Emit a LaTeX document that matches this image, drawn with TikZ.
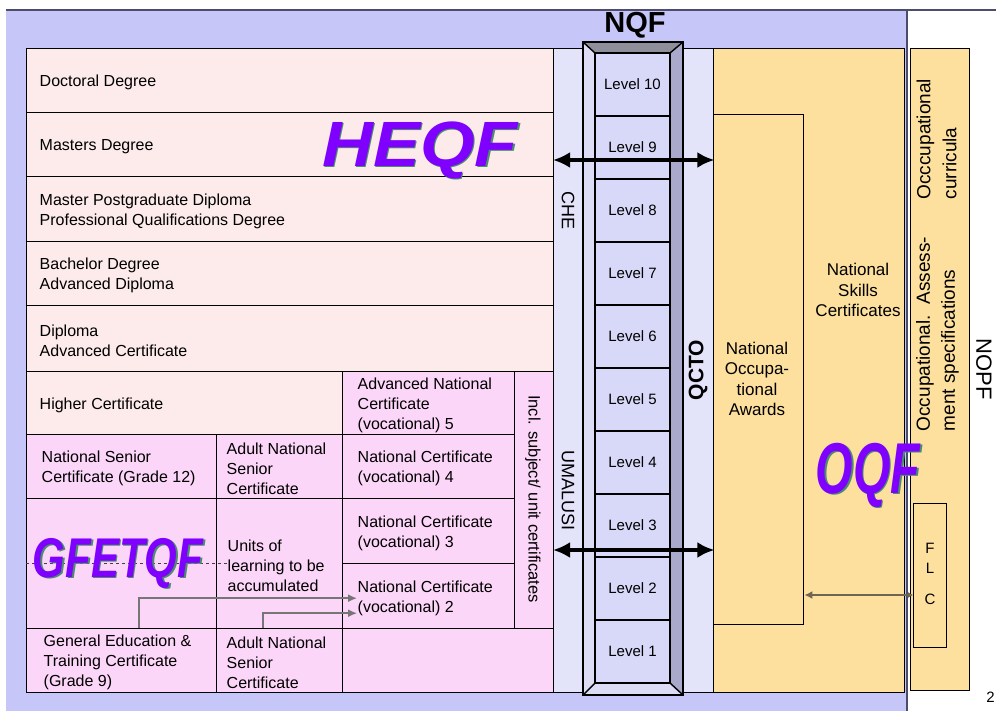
\documentclass[tikz,border=0pt]{standalone}
\usepackage{fontspec}
\setmainfont{Liberation Sans}
\usetikzlibrary{arrows.meta,positioning}
\definecolor{nqfbg}{HTML}{C6C6F8}
\definecolor{hepink}{HTML}{FDEBEB}
\definecolor{fepink}{HTML}{FCD6F8}
\definecolor{bodybar}{HTML}{E3E3FA}
\definecolor{lvlfill}{HTML}{D8D8F8}
\definecolor{frlight}{HTML}{DCDCF4}
\definecolor{frdark}{HTML}{A9A9CC}
\definecolor{frtop}{HTML}{8F8F9C}
\definecolor{oqffill}{HTML}{FDDF9E}
\definecolor{logoink}{HTML}{8000FF}
\definecolor{logoglow}{HTML}{4A8C6C}
\definecolor{linkgray}{HTML}{767676}
\definecolor{flcline}{HTML}{6E6650}
\definecolor{edge}{HTML}{4C4C6C}

\begin{document}
\begin{tikzpicture}[x=1pt, y=-1pt, line width=1.4pt,
  cellbox/.style n args={2}{draw, anchor=north west, minimum width=#1, minimum height=#2, inner sep=0pt},
  he/.style={fill=hepink},
  fe/.style={fill=fepink},
  bar/.style={draw, fill=bodybar, anchor=north west, minimum width=30pt, minimum height=644pt, inner sep=0pt},
  txt/.style={align=left, inner sep=0pt, yshift=-2pt, font=\fontsize{16}{20}\selectfont},
  lvl/.style={draw, fill=lvlfill, minimum width=75pt, minimum height=63pt, inner sep=0pt, font=\fontsize{15}{18}\selectfont},
  side/.style={align=center, inner sep=0pt, font=\fontsize{17}{20.5}\selectfont},
  logo/.style={inner sep=0pt, text=logoink, font=\fontsize{#1}{#1}\selectfont\bfseries\itshape},
  glow/.style={inner sep=0pt, text=logoglow, font=\fontsize{#1}{#1}\selectfont\bfseries\itshape},
  bigarrow/.style={{Latex[length=17pt,width=16pt]}-{Latex[length=17pt,width=16pt]}, line width=4.5pt},
  link/.style={-{Latex[length=9pt,width=8pt]}, draw=linkgray, line width=1.5pt}]
  \useasboundingbox (0,0) rectangle (996,711);
  \fill[nqfbg] (6,10) rectangle (907,711);
  \draw[edge, line width=2pt] (6,10) -- (996,10);
  \draw[edge, line width=2.5pt] (907,10) -- (907,711);

  \node[cellbox={527pt}{64pt}, he] (doc) at (26,48) {};
  \node[cellbox={527pt}{64pt}, he] (mas) at (26,112) {};
  \node[cellbox={527pt}{65pt}, he] (mpd) at (26,176) {};
  \node[cellbox={527pt}{64pt}, he] (bach) at (26,241) {};
  \node[cellbox={527pt}{66pt}, he] (dip) at (26,305) {};
  \node[cellbox={316pt}{63pt}, he] (hc) at (26,371) {};
  \node[cellbox={172pt}{63pt}, fe] (anc) at (342,371) {};
  \node[cellbox={39pt}{257pt}, fe] (incl) at (514,371) {};
  \node[cellbox={190pt}{64pt}, fe] (nsc) at (26,434) {};
  \node[cellbox={126pt}{64pt}, fe] (ansc) at (216,434) {};
  \node[cellbox={172pt}{64pt}, fe] (nc4) at (342,434) {};
  \node[cellbox={190pt}{130pt}, fe] (gfet) at (26,498) {};
  \node[cellbox={126pt}{130pt}, fe] (units) at (216,498) {};
  \node[cellbox={172pt}{65pt}, fe] (nc3) at (342,498) {};
  \node[cellbox={172pt}{65pt}, fe] (nc2) at (342,563) {};
  \node[cellbox={190pt}{64pt}, fe] (getc) at (26,628) {};
  \node[cellbox={126pt}{64pt}, fe] (ansctwo) at (216,628) {};
  \node[cellbox={211pt}{64pt}, fe] (rest) at (342,628) {};

  \node[txt, right=13pt of doc.west] (doctext) {Doctoral Degree};
  \node[txt, right=13pt of mas.west] (mastext) {Masters Degree};
  \node[txt, right=13pt of mpd.west] (mpdtext) {Master Postgraduate Diploma\\Professional Qualifications Degree};
  \node[txt, right=13pt of bach.west] (bachtext) {Bachelor Degree\\Advanced Diploma};
  \node[txt, right=13pt of dip.west] (diptext) {Diploma\\Advanced Certificate};
  \node[txt, right=13pt of hc.west] (hctext) {Higher Certificate};
  \node[txt, right=15pt of anc.west] (anctext) {Advanced National\\Certificate\\(vocational) 5};
  \node[txt, right=15pt of nsc.west] (nsctext) {National Senior\\Certificate (Grade 12)};
  \node[txt, right=10pt of ansc.west] (ansctext) {Adult National\\Senior\\Certificate};
  \node[txt, right=15pt of nc4.west] (nc4text) {National Certificate\\(vocational) 4};
  \node[txt, right=11pt of units.west] (unitstext) {Units of\\learning to be\\accumulated};
  \node[txt, right=15pt of nc3.west] (nc3text) {National Certificate\\(vocational) 3};
  \node[txt, right=15pt of nc2.west] (nc2text) {National Certificate\\(vocational) 2};
  \node[txt, right=17pt of getc.west] (getctext) {General Education \&\\Training Certificate\\(Grade 9)};
  \node[txt, right=10pt of ansctwo.west] (ansctwotext) {Adult National\\Senior\\Certificate};
  \node[txt, rotate=-90, yshift=0pt, font=\fontsize{16.5}{20}\selectfont] (incltext) at (533,497) {Incl. subject/ unit certificates};

  \node[bar] (che) at (553,48) {};
  \node[bar] (qcto) at (683,48) {};
  \node[rotate=-90, inner sep=0pt, font=\fontsize{18}{18}\selectfont] (chetext) at (568,211) {CHE};
  \node[rotate=-90, inner sep=0pt, font=\fontsize{18}{18}\selectfont] (umalusi) at (568,491) {UMALUSI};
  \node[rotate=90, inner sep=0pt, font=\fontsize{21}{21}\selectfont\bfseries] (qctotext) at (698,370) {QCTO};

  \fill[frlight] (583,42) rectangle (683,695);
  \fill[frdark] (670,53) -- (683,42) -- (683,695) -- (670,683) -- cycle;
  \fill[frtop] (583,42) -- (683,42) -- (670,53) -- (595,53) -- cycle;
  \draw (583,42) rectangle (683,695);
  \draw (583,42) -- (595,53) (683,42) -- (670,53) (583,695) -- (595,683) (683,695) -- (670,683);
  \foreach \i in {1,...,10}
    \node[lvl] (l\i) at (632.5,{651.5-63*(\i-1)}) {Level \i};
  \node[inner sep=0pt, font=\fontsize{29}{29}\selectfont\bfseries] (nqf) at (635,25) {NQF};

  \node[cellbox={191pt}{644pt}, fill=oqffill] (oqf) at (713,48) {};
  \node[cellbox={90pt}{510pt}, fill=oqffill] (noa) at (713,114) {};
  \node[cellbox={59pt}{642pt}, fill=oqffill] (opanel) at (910,48) {};
  \node[cellbox={33pt}{144pt}, fill=oqffill] (flc) at (913,503) {};
  \node[side] (nsktext) at (858,290) {National\\Skills\\Certificates};
  \node[side] (noatext) at (757,379) {National\\Occupa-\\tional\\Awards};
  \node[side, font=\fontsize{15}{20}\selectfont] (flctext) at (930,574) {F\\L\\[11pt]C};
  \node[rotate=90, anchor=west, align=left, inner sep=0pt, font=\fontsize{19}{26}\selectfont] (curr) at (936.5,200) {Occcupational\\curricula};
  \node[rotate=90, anchor=west, align=left, inner sep=0pt, font=\fontsize{19}{25}\selectfont] (spec) at (937.5,432) {Occupational.~~Assess-\\ment specifications};
  \node[rotate=-90, inner sep=0pt, font=\fontsize{22}{22}\selectfont] (nopf) at (984,369) {NOPF};
  \node[anchor=east, inner sep=0pt, font=\fontsize{15}{15}\selectfont] (pageno) at (995.5,697) {2};

  \draw[dashed, draw=black!75, line width=1.2pt] (gfet.west) -- ([xshift=12pt]units.west);
  \node[glow=64, xscale=1.1] (heqfglow) at (421.5,151.5) {HEQF};
  \node[logo=64, xscale=1.1] (heqf) at (420,150) {HEQF};
  \node[glow=56, xscale=0.75] (gfetglow) at (119.5,564.5) {GFETQF};
  \node[logo=56, xscale=0.75] (gfetqf) at (118,563) {GFETQF};
  \node[glow=72, xscale=0.67] (oqfglow) at (869.5,476.5) {OQF};
  \node[logo=72, xscale=0.67] (oqftext) at (868,475) {OQF};

  \coordinate (upper) at (0,160);
  \coordinate (lower) at (0,550);
  \coordinate (flcrow) at (0,595);
  \coordinate (getcfoot) at (139,628);
  \coordinate (anscfoot) at (263,628);
  \draw[bigarrow] (che.west |- upper) -- (qcto.east |- upper);
  \draw[bigarrow] (che.west |- lower) -- (qcto.east |- lower);
  \draw[link] (getcfoot) |- (nc2text.west);
  \draw[link] (anscfoot) |- ([yshift=-15pt]nc2text.west);
  \draw[flcline, line width=2pt, {Latex[length=8pt,width=8pt]}-{Latex[length=5pt,width=6pt]}] (noa.east |- flcrow) -- (flc.west |- flcrow);
\end{tikzpicture}
\end{document}
